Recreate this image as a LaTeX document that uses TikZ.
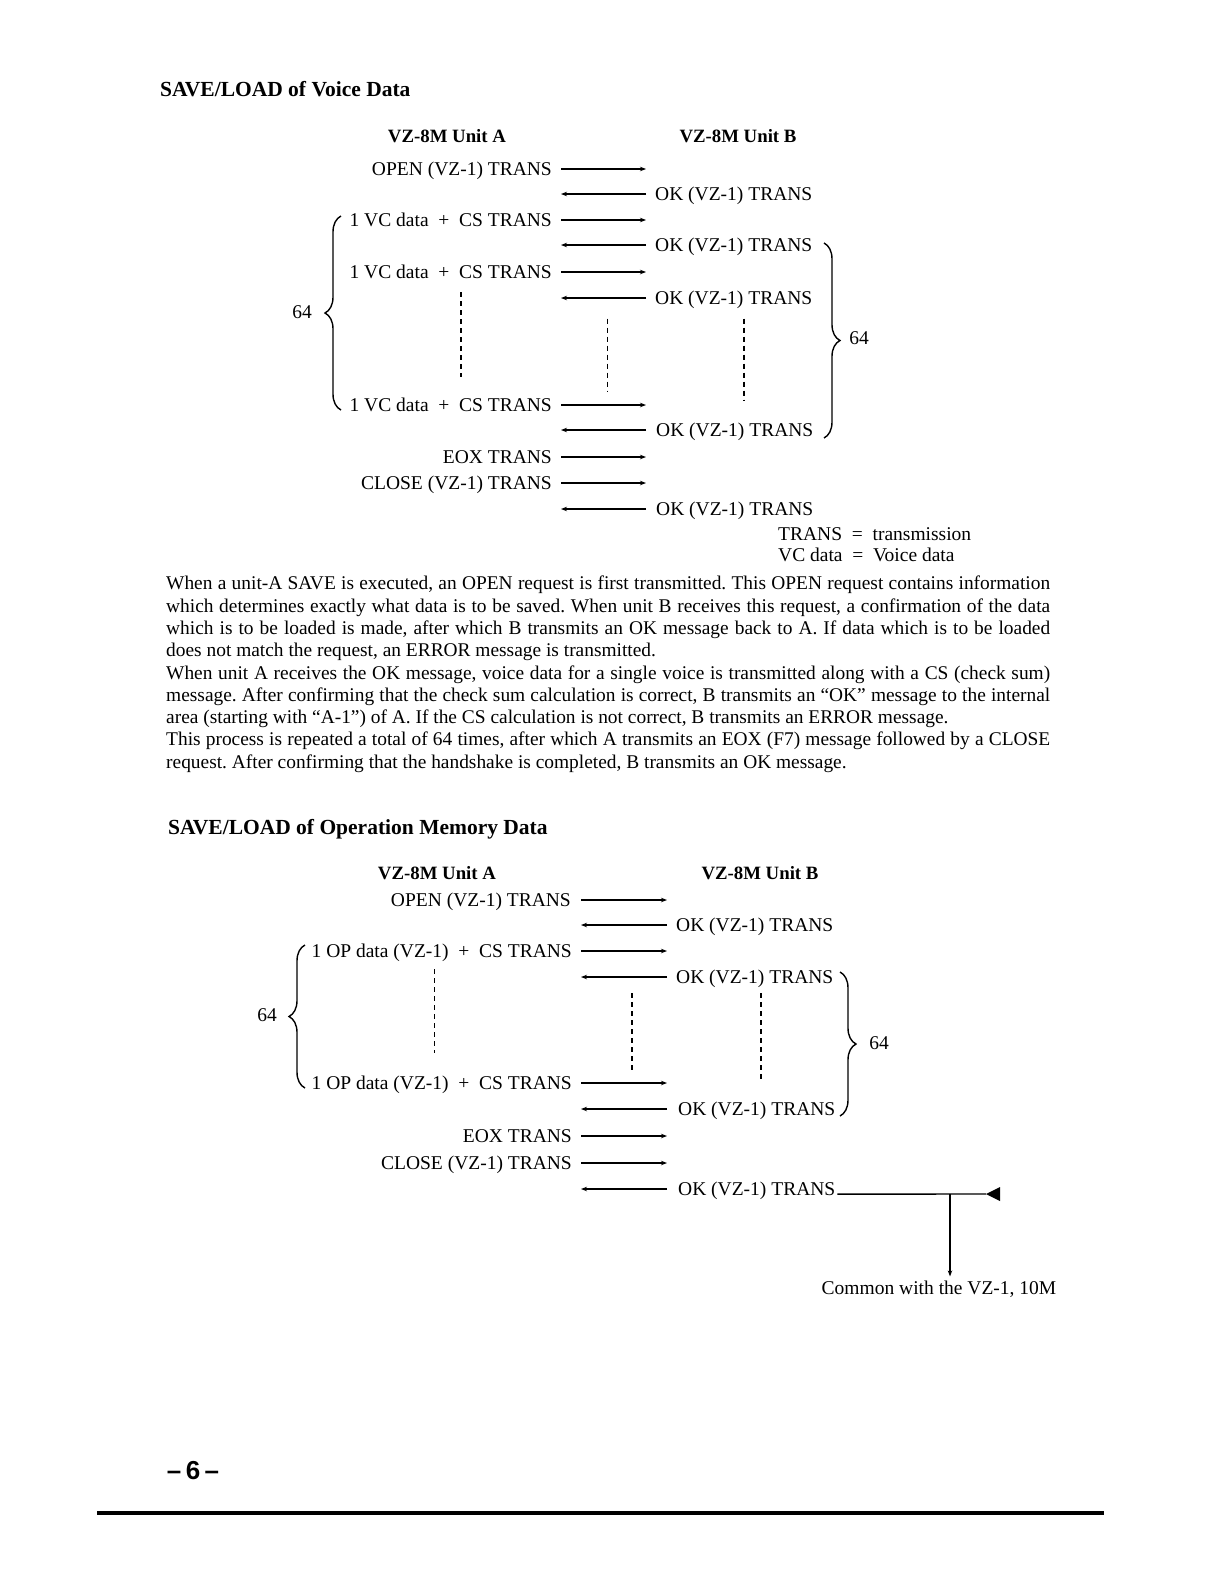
\documentclass[tikz,border=0pt]{standalone}
\usepackage{fontspec}
\setmainfont{Liberation Serif}
\setsansfont{Liberation Sans}
\usetikzlibrary{arrows.meta,decorations.pathreplacing}

\begin{document}
\begin{tikzpicture}[x=1pt,y=-1pt,
  lbl/.style={inner sep=0pt,text height=12.8pt,text depth=0pt,font=\fontsize{19.5}{22}\selectfont},
  head/.style={inner sep=0pt,font=\fontsize{18.8}{22}\selectfont\bfseries},
  ttl/.style={inner sep=0pt,anchor=west,font=\fontsize{21.5}{24}\selectfont\bfseries},
  msg/.style={line width=1.4pt,-{Stealth[length=6pt,width=4.5pt]}},
  dots/.style={line width=1.6pt,dash pattern=on 5pt off 4pt},
  brc/.style={line width=1.4pt,decorate,decoration={brace,amplitude=16pt}}]
\useasboundingbox (0,0) rectangle (1214,1596);
\node[ttl] (t1) at (160,89.5) {SAVE/LOAD of Voice Data};
\node[head] (ha1) at (447,136) {VZ-8M Unit A};
\node[head] (hb1) at (738,136) {VZ-8M Unit B};
\coordinate (tL) at (561,0);
\coordinate (tR) at (646,0);
\node[lbl,anchor=east] (ta1) at (552,169) {OPEN (VZ-1) TRANS};
\node[lbl,anchor=west] (tb2) at (655,194) {OK (VZ-1) TRANS};
\node[lbl,anchor=east] (ta3) at (552,220) {1 VC data\ \ +\ \ CS TRANS};
\node[lbl,anchor=west] (tb4) at (655,245) {OK (VZ-1) TRANS};
\node[lbl,anchor=east] (ta5) at (552,272) {1 VC data\ \ +\ \ CS TRANS};
\node[lbl,anchor=west] (tb6) at (655,298) {OK (VZ-1) TRANS};
\node[lbl,anchor=east] (ta7) at (552,405) {1 VC data\ \ +\ \ CS TRANS};
\node[lbl,anchor=west] (tb8) at (656,430) {OK (VZ-1) TRANS};
\node[lbl,anchor=east] (ta9) at (552,457) {EOX TRANS};
\node[lbl,anchor=east] (ta10) at (552,483) {CLOSE (VZ-1) TRANS};
\node[lbl,anchor=west] (tb11) at (656,509) {OK (VZ-1) TRANS};
\draw[msg] (ta1 -| tL) -- (ta1 -| tR);
\draw[msg] (tb2 -| tR) -- (tb2 -| tL);
\draw[msg] (ta3 -| tL) -- (ta3 -| tR);
\draw[msg] (tb4 -| tR) -- (tb4 -| tL);
\draw[msg] (ta5 -| tL) -- (ta5 -| tR);
\draw[msg] (tb6 -| tR) -- (tb6 -| tL);
\draw[msg] (ta7 -| tL) -- (ta7 -| tR);
\draw[msg] (tb8 -| tR) -- (tb8 -| tL);
\draw[msg] (ta9 -| tL) -- (ta9 -| tR);
\draw[msg] (ta10 -| tL) -- (ta10 -| tR);
\draw[msg] (tb11 -| tR) -- (tb11 -| tL);
\draw[dots] (461,292) -- (461,377);
\draw[dots] (607.5,318.5) -- (607.5,392);
\draw[dots] (744,318.5) -- (744,400);
\draw[brc] (341,410) -- (341,216);
\draw[brc] (824,243) -- (824,438);
\node[lbl] (tn1) at (302,312) {64};
\node[lbl] (tn2) at (859,338) {64};
\node[lbl,anchor=west] (lg1) at (778,534) {TRANS\ \ =\ \ transmission};
\node[lbl,anchor=west] (lg2) at (778,555) {VC data\ \ =\ \ Voice data};
\node[anchor=north west,inner sep=0pt,text width=884pt,align=justify,
  font=\fontsize{19.4}{22.3}\selectfont] (txt) at (166,576)
  {\parindent0pt\frenchspacing\hyphenpenalty10000
  When a unit-A SAVE is executed, an OPEN request is first transmitted. This OPEN request contains information\linebreak
  which determines exactly what data is to be saved. When unit B receives this request, a confirmation of the data\linebreak
  which is to be loaded is made, after which B transmits an OK message back to A. If data which is to be loaded\linebreak
  does not match the request, an ERROR message is transmitted.\par
  When unit A receives the OK message, voice data for a single voice is transmitted along with a CS (check sum)\linebreak
  message. After confirming that the check sum calculation is correct, B transmits an ``OK'' message to the internal\linebreak
  area (starting with ``A-1'') of A. If the CS calculation is not correct, B transmits an ERROR message.\par
  This process is repeated a total of 64 times, after which A transmits an EOX (F7) message followed by a CLOSE\linebreak
  request. After confirming that the handshake is completed, B transmits an OK message.};
\node[ttl] (t2) at (168,829) {SAVE/LOAD of Operation Memory Data};
\node[head] (ha2) at (437,873) {VZ-8M Unit A};
\node[head] (hb2) at (760,873) {VZ-8M Unit B};
\coordinate (bL) at (581,0);
\coordinate (bR) at (667,0);
\node[lbl,anchor=east] (ba1) at (571,900) {OPEN (VZ-1) TRANS};
\node[lbl,anchor=west] (bb2) at (676,925) {OK (VZ-1) TRANS};
\node[lbl,anchor=east] (ba3) at (572,951) {1 OP data (VZ-1)\ \ +\ \ CS TRANS};
\node[lbl,anchor=west] (bb4) at (676,977) {OK (VZ-1) TRANS};
\node[lbl,anchor=east] (ba5) at (572,1083) {1 OP data (VZ-1)\ \ +\ \ CS TRANS};
\node[lbl,anchor=west] (bb6) at (678,1109) {OK (VZ-1) TRANS};
\node[lbl,anchor=east] (ba7) at (572,1136) {EOX TRANS};
\node[lbl,anchor=east] (ba8) at (572,1163) {CLOSE (VZ-1) TRANS};
\node[lbl,anchor=west] (bb9) at (678,1189) {OK (VZ-1) TRANS};
\draw[msg] (ba1 -| bL) -- (ba1 -| bR);
\draw[msg] (bb2 -| bR) -- (bb2 -| bL);
\draw[msg] (ba3 -| bL) -- (ba3 -| bR);
\draw[msg] (bb4 -| bR) -- (bb4 -| bL);
\draw[msg] (ba5 -| bL) -- (ba5 -| bR);
\draw[msg] (bb6 -| bR) -- (bb6 -| bL);
\draw[msg] (ba7 -| bL) -- (ba7 -| bR);
\draw[msg] (ba8 -| bL) -- (ba8 -| bR);
\draw[msg] (bb9 -| bR) -- (bb9 -| bL);
\draw[dots] (434.5,969) -- (434.5,1053);
\draw[dots] (632,993) -- (632,1071);
\draw[dots] (761,993) -- (761,1079);
\draw[brc] (305,1088) -- (305,945);
\draw[brc] (840,972) -- (840,1116);
\node[lbl] (bn1) at (267,1015) {64};
\node[lbl] (bn2) at (879,1043) {64};
\coordinate (tri) at (986,1194);
\coordinate (drop) at (950,1194);
\node[lbl] (cmn) at (939,1288) {Common with the VZ-1, 10M};
\draw[line width=1.4pt] (bb9.south east) ++(2,-1.5) -- (tri);
\fill (tri) -- ++(14,-7) -- ++(0,14) -- cycle;
\draw[msg,shorten >=5pt] (drop) -- (drop |- cmn.north);
\node[font=\fontsize{26}{26}\selectfont\sffamily\bfseries] (pg) at (193,1471) {--\,6\,--};
\draw[line width=4pt] (97,1513) -- (1104,1513);
\end{tikzpicture}
\end{document}
